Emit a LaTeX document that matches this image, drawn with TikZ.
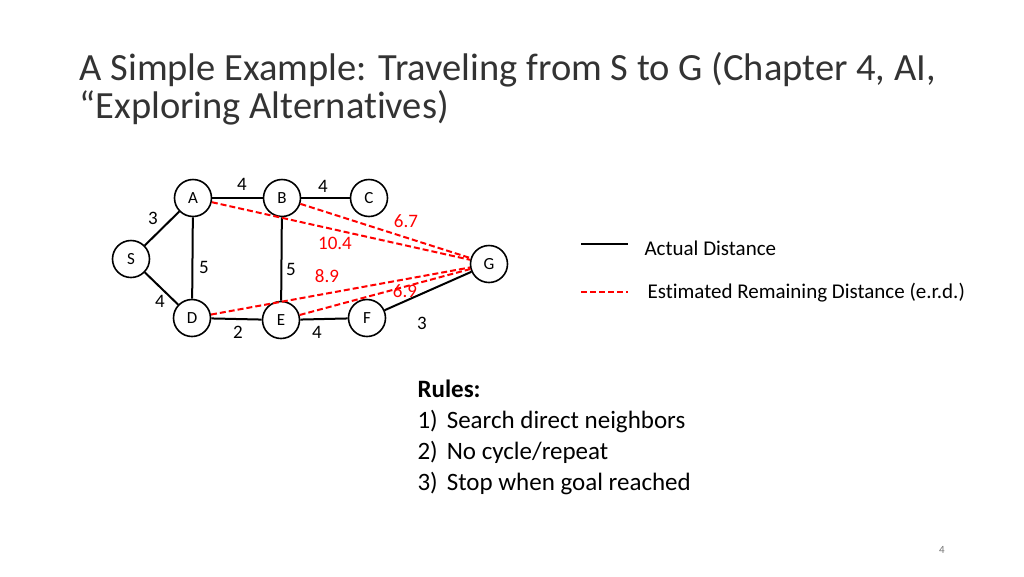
\documentclass[tikz,border=0pt]{standalone}
\usepackage{fontspec}
\setmainfont[Ligatures=NoCommon]{Carlito}
\usetikzlibrary{positioning}
\tikzset{
  city/.style={draw, circle, line width=1.6pt, minimum size=37pt, inner sep=0pt, font=\fontsize{17}{17}\selectfont},
  road/.style={draw, line width=2pt, black},
  guess/.style={draw, line width=2pt, red, dash pattern=on 6pt off 3pt},
  dist/.style={font=\fontsize{19}{19}\selectfont},
  erd/.style={font=\fontsize{19}{19}\selectfont, text=red},
  legend/.style={font=\fontsize{21}{21}\selectfont}
}
\begin{document}
\begin{tikzpicture}[x=1pt, y=-1pt]
        \useasboundingbox (0,0) rectangle (1024,576);

        \node[anchor=base west, font=\fontsize{38.5}{38.5}\selectfont, text=black!80] (title1) at (76,80) {A Simple Example: Traveling from S to G (Chapter 4, AI,};
        \node[anchor=base west, font=\fontsize{38.5}{38.5}\selectfont, text=black!80] (title2) at (76,118) {“Exploring Alternatives)};

        \node[city] (A) at (193,198) {A};
        \node[city] (B) at (282,198) {B};
        \node[city] (C) at (369,198) {C};
        \node[city] (S) at (131,259) {S};
        \node[city] (G) at (489,264) {G};
        \node[city] (D) at (192,318) {D};
        \node[city] (E) at (281,320) {E};
        \node[city] (F) at (367,318) {F};

        \draw[road] (S) -- (A);
        \draw[road] (S) -- (D);
        \draw[road] (A) -- (B);
        \draw[road] (B) -- (C);
        \draw[road] (A) -- (D);
        \draw[road] (B) -- (E);
        \draw[road] (D) -- (E);
        \draw[road] (E) -- (F);
        \draw[road] (F) -- (G);

        \draw[guess] (A) -- (G);
        \draw[guess] (B) -- (G);
        \draw[guess] (D) -- (G);
        \draw[guess] (E) -- (G);

        \node[dist] at (242,184) {4};
        \node[dist] at (323,186) {4};
        \node[dist] at (153,218) {3};
        \node[dist] at (204,267) {5};
        \node[dist] at (291,269) {5};
        \node[dist] at (160,301) {4};
        \node[dist] at (238,332) {2};
        \node[dist] at (317,332) {4};
        \node[dist] at (422,323) {3};

        \node[erd] at (406,221) {6.7};
        \node[erd] at (335,243) {10.4};
        \node[erd] at (327,276) {8.9};
        \node[erd] at (405,291) {6.9};

        % legend
        \coordinate (l1) at (581,244);
        \coordinate (l2) at (628,244);
        \coordinate (l3) at (581,292);
        \coordinate (l4) at (628,292);
        \draw[road] (l1) -- (l2);
        \draw[guess] (l3) -- (l4);
        \node[anchor=west, legend] at (641,248) {Actual Distance};
        \node[anchor=west, legend] at (644,293) {Estimated Remaining Distance (e.r.d.)};

        \node[anchor=north west, align=left, font=\fontsize{25}{31}\selectfont] (rules) at (414,376)
          {\textbf{Rules:}\\1)\hbox to 9pt{}Search direct neighbors\\2)\hbox to 9pt{}No cycle/repeat\\3)\hbox to 9pt{}Stop when goal reached};

        \node[font=\fontsize{11}{11}\selectfont, text=black!55] (page) at (942,550) {4};
\end{tikzpicture}
\end{document}
